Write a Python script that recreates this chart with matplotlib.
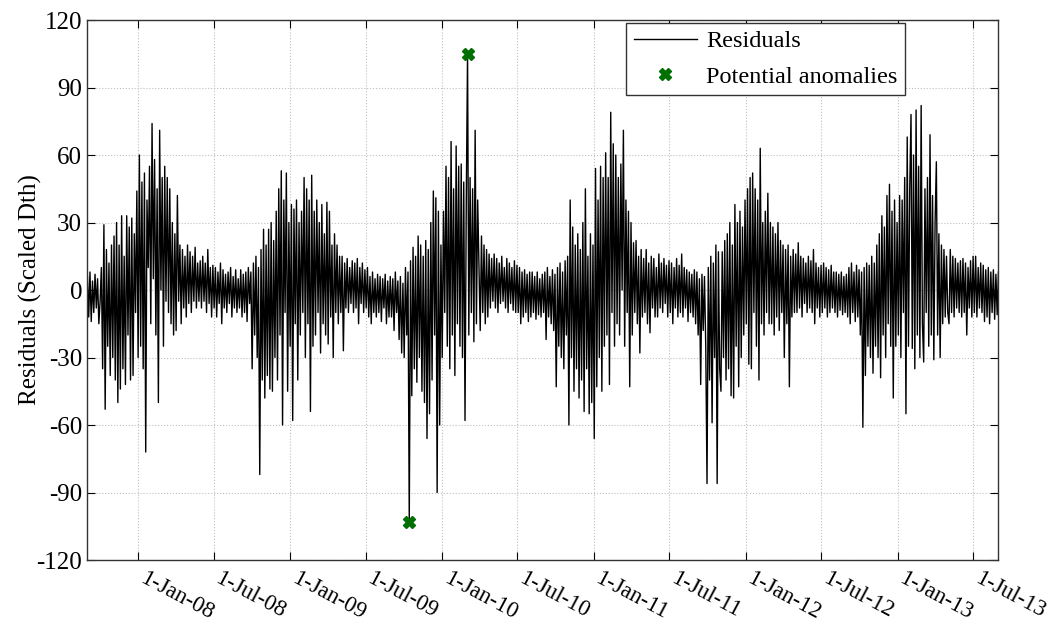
import numpy as np
import pandas as pd
import matplotlib
matplotlib.use("Agg")
import matplotlib.pyplot as plt
import matplotlib.dates as mdates
import matplotlib.transforms as mtransforms

# residuals, ~3 day spacing, 10 values per month (Sep..Aug)
res_0708 = [
    6, -12, 8, -14, 4, -10, 7, -8, 5, -15,        # Sep 07
    -5, 10, -35, 29, -53, 18, -25, 12, -38, 20,   # Oct
    -30, 24, -40, 30, -50, 20, -44, 33, -35, 15,  # Nov
    -42, 33, -20, 28, -40, 32, -38, 25, -10, 44,  # Dec
    -30, 60, -25, 48, -35, 52, -72, 40, 10, 55,   # Jan 08
    -15, 74, 5, 58, -20, 45, -50, 71, 0, 50,      # Feb
    -25, 55, -5, 50, -10, 45, -15, 30, -20, 25,   # Mar
    -18, 42, -5, 20, -15, 18, -8, 15, -12, 20,    # Apr
    -6, 17, -10, 15, -5, 19, -8, 12, -5, 13,      # May
    -8, 15, -5, 12, -10, 18, -6, 10, -12, 11,     # Jun
    -8, 10, -12, 8, -6, 12, -15, 9, -8, 7,        # Jul
    -10, 8, -6, 10, -12, 6, -8, 9, -10, 5,        # Aug
]
res_0809 = [
    -8, 9, -12, 7, -10, 8, -14, 10, -6, 8,
    -35, 12, -20, 15, -30, 10, -82, 18, -40, 27,
    -48, 20, -38, 27, -44, 30, -45, 22, -30, 35,
    -40, 45, -20, 53, -60, 40, -10, 52, -45, 30,
    -25, 38, -58, 36, -15, 40, -40, 30, -20, 35,
    -10, 50, -30, 45, -15, 40, -54, 51, -25, 35,
    -20, 40, -10, 30, -28, 38, -15, 25, -20, 39,
    -24, 35, -12, 20, -30, 25, -10, 20, -15, 15,
    -10, 15, -27, 12, -8, 14, -10, 10, -6, 13,
    -10, 12, -8, 14, -15, 10, -6, 12, -10, 9,
    -8, 10, -12, 6, -15, 8, -10, 5, -12, 7,
    -10, 6, -14, 5, -8, 7, -15, 4, -12, 6,
]
res_0910 = [
    -12, 5, -18, 8, -10, 4, -22, 6, -28, 3,
    -30, 10, -20, 8, -103, 13, -47, 19, -35, 15,
    -41, 24, -30, 20, -45, 15, -50, 22, -66, 18,
    -55, 30, -40, 44, -20, 41, -90, 35, -60, 20,
    -30, 35, -10, 55, -25, 50, -35, 66, -20, 45,
    -38, 64, -15, 55, -25, 56, -30, 48, -58, 40,
    105, -20, 50, -10, 45, -23, 71, -15, 40, 10,
    -18, 24, -10, 20, -15, 18, -12, 16, -8, 14,
    -5, 16, -8, 14, -10, 12, -6, 15, -5, 10,
    -8, 14, -10, 12, -6, 10, -9, 13, -10, 11,
    -10, 10, -15, 8, -12, 9, -10, 7, -14, 8,
    -12, 8, -10, 6, -13, 8, -11, 5, -12, 7,
]
res_1011 = [
    -10, 8, -22, 10, -12, 6, -15, 9, -18, 7,
    -43, 10, -25, 12, -30, 8, -35, 13, -20, 15,
    -60, 40, -30, 28, -45, 20, -35, 25, -48, 18,
    -40, 30, -54, 45, -35, 15, -55, 25, -50, 20,
    -66, 54, -43, 40, -30, 55, -45, 50, -25, 61,
    -20, 50, -42, 79, -10, 65, -25, 60, -15, 50,
    -20, 56, 0, 71, -25, 40, -10, 35, -43, 30,
    -20, 21, -10, 22, -15, 15, -28, 18, -12, 14,
    -10, 18, -15, 12, -19, 15, -8, 14, -12, 10,
    -12, 16, -8, 12, -10, 14, -6, 11, -12, 13,
    -10, 12, -15, 10, -8, 14, -12, 11, -10, 16,
    -12, 10, -8, 9, -14, 8, -10, 7, -12, 9,
]
res_1112 = [
    -15, 8, -20, 5, -42, 7, -18, 6, -25, -86,
    10, -40, 15, -59, 12, -30, 20, -86, 17, -35,
    -45, 17, -30, 22, -40, 25, -35, 30, -47, 20,
    -48, 38, -25, 30, -43, 35, -30, 28, -20, 40,
    -15, 45, -33, 50, -35, 52, -10, 45, -25, 40,
    -40, 63, -15, 30, -20, 35, -10, 43, -15, 30,
    -15, 28, -20, 25, -12, 30, -18, 22, -10, 20,
    -30, 18, -15, 20, -43, 15, -12, 18, -10, 16,
    -10, 21, -8, 15, -12, 14, -6, 12, -10, 15,
    -8, 13, -10, 18, -15, 12, -8, 10, -12, 11,
    -10, 12, -8, 10, -12, 9, -10, 11, -8, 8,
    -10, 8, -12, 7, -9, 8, -11, 6, -10, 7,
]
res_1213 = [
    -12, 10, -15, 12, -10, 8, -14, 11, -12, 9,
    -20, 8, -61, 10, -38, 12, -25, 11, -30, 15,
    -37, 12, -25, 20, -30, 25, -39, 33, -20, 28,
    -30, 42, -15, 47, -25, 35, -48, 40, -25, 30,
    -20, 42, -30, 40, -10, 50, -55, 68, -25, 45,
    78, -26, 60, -35, 80, -20, 55, -30, 82, -15,
    -32, 45, -10, 50, -25, 69, -20, 42, -31, 30,
    57, -20, 25, -30, 20, -15, 18, -12, 15, -10,
    -15, 18, -10, 15, -12, 14, -8, 12, -10, 13,
    -12, 14, -10, 12, -20, 10, -8, 13, -12, 15,
    -10, 15, -12, 10, -8, 12, -10, 11, -14, 9,
    -12, 10, -15, 8, -10, 9, -13, 7, -11, 8,
]

residuals = np.array(res_0708 + res_0809 + res_0910 + res_1011 + res_1112 + res_1213, dtype=float)
dates = pd.date_range("2007-09-01", "2013-08-31", periods=len(residuals))

# points flagged as potential anomalies
anom = np.abs(residuals) > 100

plt.rcParams['font.family'] = ['Liberation Serif', 'DejaVu Serif']
plt.rcParams['axes.unicode_minus'] = False

fig = plt.figure(figsize=(10.56, 6.33), dpi=100)
ax = fig.add_axes([0.0824, 0.1153, 0.8627, 0.8531])

ax.plot(dates, residuals, color='black', linewidth=1.0, label='Residuals')
ax.plot(dates[anom], residuals[anom], 'X', color='#007000', markersize=9,
        linestyle='none', label='Potential anomalies')

ax.set_xlim(pd.Timestamp("2007-08-31"), pd.Timestamp("2013-08-30"))
ax.set_ylim(-120, 120)
ax.set_yticks(np.arange(-120, 121, 30))
ax.xaxis.set_major_locator(mdates.MonthLocator(bymonth=[1, 7], bymonthday=1))
ax.xaxis.set_major_formatter(mdates.DateFormatter('1-%b-%y'))

ax.tick_params(direction='in', top=True, right=True, length=6, width=0.8, labelsize=18)
ax.tick_params(axis='x', pad=6, labelsize=16.5)

shift = mtransforms.ScaledTranslation(8 / 100, 0, fig.dpi_scale_trans)
for lbl in ax.get_xticklabels():
    lbl.set_rotation(-28)
    lbl.set_ha('left')
    lbl.set_va('top')
    lbl.set_rotation_mode('anchor')
    lbl.set_transform(lbl.get_transform() + shift)

ax.grid(True, linestyle=':', color='#c0c0c0', linewidth=0.8)
for s in ax.spines.values():
    s.set_linewidth(1.0)
    s.set_color('#333333')

ax.set_ylabel('Residuals (Scaled Dth)', fontsize=18, labelpad=-4)

leg = ax.legend(loc='upper right', bbox_to_anchor=(0.898, 0.9944), borderaxespad=0,
                fancybox=False, edgecolor='#333333', framealpha=1, fontsize=17.5,
                handlelength=2.6, borderpad=0.3, labelspacing=0.55, handletextpad=0.4)
leg.get_frame().set_linewidth(1.0)

fig.savefig('out.png', dpi=100)
